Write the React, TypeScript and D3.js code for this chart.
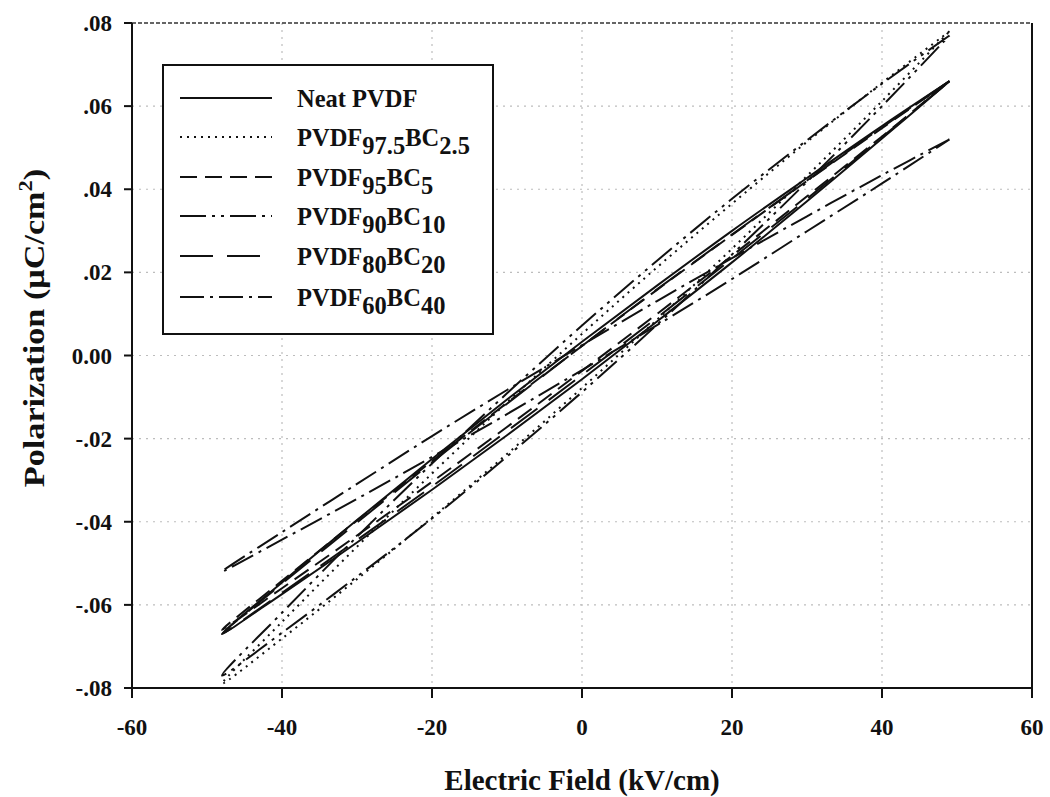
import React from "react";
import * as d3 from "d3";

// Field points: upper branch goes from +max to -max, lower branch back
const E_UP = [49, 40, 30, 20, 10, 0, -10, -20, -30, -40, -48];
const E_LO = [-48, -40, -30, -20, -10, 0, 10, 20, 30, 40, 49];

const neatUp = [0.066, 0.0552, 0.0427, 0.03, 0.0168, 0.0033, -0.0106, -0.0249, -0.0396, -0.0546, -0.067];
const neatLo = [-0.067, -0.0574, -0.045, -0.0323, -0.0192, -0.0057, 0.0082, 0.0224, 0.0371, 0.0522, 0.066];

const bc25Up = [0.078, 0.0656, 0.0514, 0.0365, 0.0212, 0.0052, -0.0113, -0.0284, -0.046, -0.0641, -0.079];
const bc25Lo = [-0.079, -0.0681, -0.0538, -0.039, -0.0237, -0.0078, 0.0086, 0.0257, 0.0432, 0.0612, 0.078];

const bc5Up = [0.066, 0.0547, 0.042, 0.029, 0.0158, 0.0023, -0.0114, -0.0254, -0.0397, -0.0542, -0.066];
const bc5Lo = [-0.066, -0.056, -0.0433, -0.0304, -0.0172, -0.0037, 0.01, 0.024, 0.0383, 0.0527, 0.066];

const bc10Up = [0.077, 0.0654, 0.0518, 0.0377, 0.0228, 0.0072, -0.0091, -0.026, -0.0436, -0.0619, -0.077];
const bc10Lo = [-0.077, -0.0667, -0.0532, -0.0392, -0.0243, -0.0088, 0.0074, 0.0243, 0.0418, 0.06, 0.077];

const bc20Up = [0.066, 0.0549, 0.0421, 0.0291, 0.0159, 0.0023, -0.0116, -0.0257, -0.0402, -0.0549, -0.067];
const bc20Lo = [-0.067, -0.0571, -0.0444, -0.0315, -0.0182, -0.0047, 0.0091, 0.0233, 0.0377, 0.0525, 0.066];

const bc40Up = [0.052, 0.0434, 0.0335, 0.0234, 0.0131, 0.0025, -0.0083, -0.0194, -0.0309, -0.0425, -0.052];
const bc40Lo = [-0.052, -0.0443, -0.0345, -0.0244, -0.0141, -0.0035, 0.0073, 0.0184, 0.0299, 0.0414, 0.052];

const X_TICKS = [-60, -40, -20, 0, 20, 40, 60];
const X_TICK_LABELS = ["-60", "-40", "-20", "0", "20", "40", "60"];
const Y_TICKS = [0.08, 0.06, 0.04, 0.02, 0, -0.02, -0.04, -0.06, -0.08];
const Y_TICK_LABELS = [".08", ".06", ".04", ".02", "0.00", "-.02", "-.04", "-.06", "-.08"];

type Series = { base: string; sub1?: string; mid?: string; sub2?: string; up: number[]; lo: number[]; dash: string };

const SERIES: Series[] = [
  { base: "Neat PVDF", up: neatUp, lo: neatLo, dash: "none" },
  { base: "PVDF", sub1: "97.5", mid: "BC", sub2: "2.5", up: bc25Up, lo: bc25Lo, dash: "2,5" },
  { base: "PVDF", sub1: "95", mid: "BC", sub2: "5", up: bc5Up, lo: bc5Lo, dash: "17,8" },
  { base: "PVDF", sub1: "90", mid: "BC", sub2: "10", up: bc10Up, lo: bc10Lo, dash: "26,6,3,6,3,6" },
  { base: "PVDF", sub1: "80", mid: "BC", sub2: "20", up: bc20Up, lo: bc20Lo, dash: "33,14" },
  { base: "PVDF", sub1: "60", mid: "BC", sub2: "40", up: bc40Up, lo: bc40Lo, dash: "24,6,3,6" },
];

const W = 1050;
const H = 797;
const L = 132, R = 1032, T = 23, B = 688;
const FONT = "'Liberation Serif', 'Times New Roman', serif";

export default function App() {
  const x = d3.scaleLinear().domain([-60, 60]).range([L, R]);
  const y = d3.scaleLinear().domain([-0.08, 0.08]).range([B, T]);
  const line = d3
    .line<[number, number]>()
    .x((d) => x(d[0]))
    .y((d) => y(d[1]))
    .curve(d3.curveCatmullRom.alpha(0.5));

  const legendRowsY = [98, 137, 177, 216, 256, 297];

  return (
    <svg width={W} height={H} style={{ position: "absolute", left: 0, top: 0, background: "#fff" }} fontFamily={FONT}>
      <rect x={0} y={0} width={W} height={H} fill="#fff" />
      {/* grid */}
      {X_TICKS.filter((t) => t > -60 && t < 60).map((t) => (
        <line key={"gx" + t} x1={x(t)} x2={x(t)} y1={T} y2={B} stroke="#bdbdbd" strokeWidth={1.2} strokeDasharray="2,5" />
      ))}
      {Y_TICKS.filter((t) => t > -0.08 && t < 0.08).map((t) => (
        <line key={"gy" + t} x1={L} x2={R} y1={y(t)} y2={y(t)} stroke="#bdbdbd" strokeWidth={1.2} strokeDasharray="2,5" />
      ))}
      {/* frame */}
      <line x1={L} x2={R} y1={y(0.08)} y2={y(0.08)} stroke="#333" strokeWidth={1.5} strokeDasharray="4,2" />
      <line x1={R} x2={R} y1={T} y2={B + 10} stroke="#111" strokeWidth={2} />
      <line x1={L} x2={L} y1={T} y2={B} stroke="#111" strokeWidth={2} />
      <line x1={L} x2={R} y1={B} y2={B} stroke="#111" strokeWidth={2} />
      {/* ticks */}
      {X_TICKS.map((t, i) => (
        <g key={"xt" + t}>
          <line x1={x(t)} x2={x(t)} y1={B} y2={B + 10} stroke="#111" strokeWidth={2} />
          <text x={x(t)} y={735} textAnchor="middle" fontSize={23} fontWeight="bold" fill="#111">
            {X_TICK_LABELS[i]}
          </text>
        </g>
      ))}
      {Y_TICKS.map((t, i) => (
        <g key={"yt" + t}>
          <line x1={L - 8} x2={L} y1={y(t)} y2={y(t)} stroke="#111" strokeWidth={2} />
          <text x={112} y={y(t) + 8} textAnchor="end" fontSize={23} fontWeight="bold" fill="#111">
            {Y_TICK_LABELS[i]}
          </text>
        </g>
      ))}
      {/* curves */}
      {SERIES.map((s, i) => {
        const pts: [number, number][] = [
          ...E_UP.map((e, k) => [e, s.up[k]] as [number, number]),
          ...E_LO.slice(1).map((e, k) => [e, s.lo[k + 1]] as [number, number]),
        ];
        return (
          <path
            key={"c" + i}
            d={line(pts) || ""}
            fill="none"
            stroke="#111"
            strokeWidth={2}
            strokeDasharray={s.dash}
          />
        );
      })}
      {/* legend */}
      <rect x={163} y={65} width={330} height={269} fill="#fff" stroke="#111" strokeWidth={2} />
      {SERIES.map((s, i) => {
        const ly = legendRowsY[i];
        return (
          <g key={"lg" + i}>
            <line x1={180} x2={272} y1={ly} y2={ly} stroke="#111" strokeWidth={2.2} strokeDasharray={s.dash} />
            <text x={297} y={ly + 9} fontSize={24.5} fontWeight="bold" fill="#111">
              <tspan>{s.base}</tspan>
              {s.sub1 && <tspan dy={8}>{s.sub1}</tspan>}
              {s.mid && <tspan dy={-8}>{s.mid}</tspan>}
              {s.sub2 && <tspan dy={8}>{s.sub2}</tspan>}
            </text>
          </g>
        );
      })}
      {/* axis titles */}
      <text x={582} y={790} textAnchor="middle" fontSize={29} fontWeight="bold" fill="#111">
        Electric Field (kV/cm)
      </text>
      <text
        transform="translate(44,328) rotate(-90) scale(1.18,1)"
        textAnchor="middle"
        fontSize={29}
        fontWeight="bold"
        fill="#111"
      >
        Polarization (μC/cm<tspan fontSize={19} dy={-12}>2</tspan>
        <tspan dy={12}>)</tspan>
      </text>
    </svg>
  );
}
